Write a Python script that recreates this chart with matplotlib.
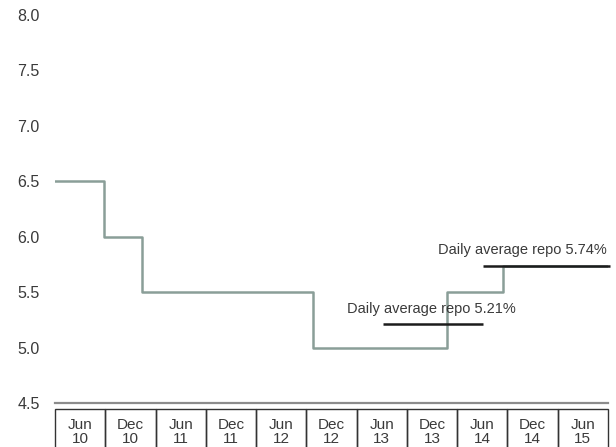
import matplotlib.pyplot as plt
from matplotlib.patches import Rectangle

plt.rcParams['font.family'] = ['Liberation Sans', 'DejaVu Sans']

# half-year periods shown as boxes under the chart
periods = ['Jun\n10', 'Dec\n10', 'Jun\n11', 'Dec\n11', 'Jun\n12', 'Dec\n12',
           'Jun\n13', 'Dec\n13', 'Jun\n14', 'Dec\n14', 'Jun\n15']

# repo rate changes (position in half-year units, rate %)
change_pos = [0.0, 0.98, 1.73, 5.13, 7.79, 8.91, 11.0]
repo_rate = [6.5, 6.0, 5.5, 5.0, 5.5, 5.74, 5.74]

# daily average repo over two windows
avg_start = [6.52, 8.51]
avg_end = [8.51, 11.03]
avg_value = [5.21, 5.74]

text_col = '#3a3a3a'

fig = plt.figure(figsize=(6.16, 4.47), dpi=100)
ax = fig.add_axes([55 / 616, 44 / 447, 553 / 616, 388 / 447])

ax.step(change_pos, repo_rate, where='post', color='#8a9e98', lw=1.8)

for x0, x1, v in zip(avg_start, avg_end, avg_value):
    ax.plot([x0, x1], [v, v], color='#1c1c1c', lw=1.8, clip_on=False,
            solid_capstyle='butt')

ax.annotate(f'Daily average repo {avg_value[0]:.2f}%',
            xy=((avg_start[0] + avg_end[0]) / 2, avg_value[0]),
            xytext=(-1, 11), textcoords='offset points', ha='center', va='center',
            fontsize=10.5, color=text_col)
ax.annotate(f'Daily average repo {avg_value[1]:.2f}%',
            xy=(avg_end[1], avg_value[1]),
            xytext=(-2, 11.5), textcoords='offset points', ha='right', va='center',
            fontsize=10.5, color=text_col, annotation_clip=False)

ax.set_xlim(0, 11)
ax.set_ylim(4.5, 8.0)
ax.set_yticks([4.5, 5.0, 5.5, 6.0, 6.5, 7.0, 7.5, 8.0])
ax.set_yticklabels([f'{v:.1f}' for v in ax.get_yticks()])
ax.tick_params(axis='y', length=0, pad=11, labelsize=11.5, labelcolor=text_col)
ax.set_xticks([])
for side in ['top', 'right', 'left']:
    ax.spines[side].set_visible(False)
ax.spines['bottom'].set_color('#8c8c8c')
ax.spines['bottom'].set_linewidth(1.6)

# category boxes
bx = fig.add_axes([55 / 616, -10 / 447, 553 / 616, 48 / 447])
bx.set_xlim(0, len(periods))
bx.set_ylim(0, 1)
bx.axis('off')
for i, lab in enumerate(periods):
    bx.add_patch(Rectangle((i, 0), 1, 1, fill=False, edgecolor='#333333',
                           lw=1.0, clip_on=False))
    bx.text(i + 0.5, 0.53, lab, ha='center', va='center', fontsize=11,
            color=text_col, linespacing=1.0)

fig.savefig('out.png', dpi=100)
